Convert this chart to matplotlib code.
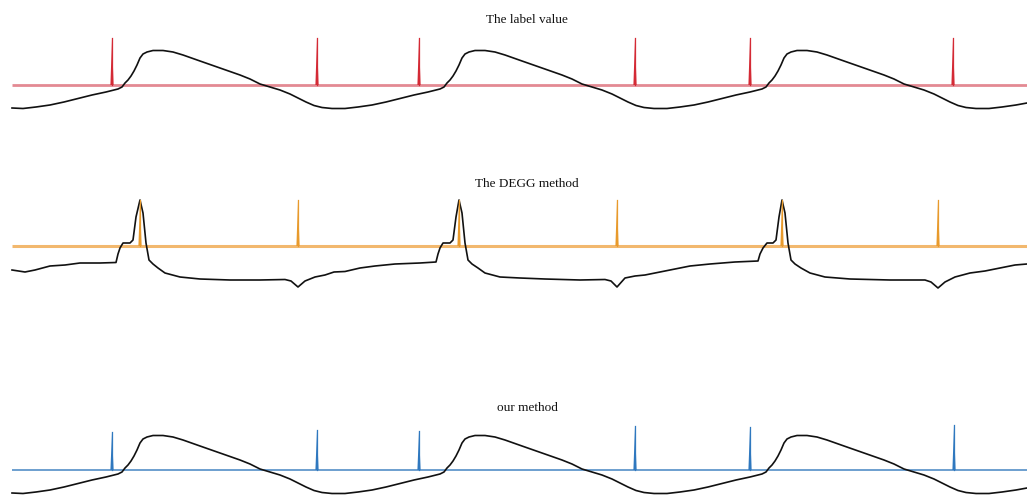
import matplotlib
matplotlib.use("Agg")
import matplotlib.pyplot as plt
import numpy as np

# ---------------- data (x in samples, amplitude relative to baseline) ----------------
titles = ["The label value", "The DEGG method", "our method"]

# EGG waveform (shared by panels 1 and 3)
egg_x = [12, 23, 36, 50, 64, 78, 92, 106,
         118, 122, 125, 128, 131, 134, 137, 140, 143, 147, 153, 163, 173, 183, 200, 220, 240, 250,
         260, 270, 280, 290, 298, 306, 314, 322, 332, 345, 358, 372, 386, 400, 414, 428,
         440, 444, 447, 450, 453, 456, 459, 462, 465, 469, 475, 485, 495, 505, 522, 542, 562, 572,
         582, 592, 602, 612, 620, 628, 636, 644, 654, 667, 680, 694, 708, 722, 736, 750,
         762, 766, 769, 772, 775, 778, 781, 784, 787, 791, 797, 807, 817, 827, 844, 864, 884, 894,
         904, 914, 924, 934, 942, 950, 958, 966, 976, 989, 1002, 1016, 1027]
egg_y = [-23, -23.5, -22, -20, -17, -13.5, -10, -7,
         -4, -2, 2, 5, 9, 14, 20, 27, 31, 33, 34.5, 34.5, 33, 30, 24, 17, 10, 6,
         1, -2, -5, -9, -13, -17, -20.5, -22.5, -23.5, -23.5, -22, -20, -17, -13.5, -10, -7,
         -4, -2, 2, 5, 9, 14, 20, 27, 31, 33, 34.5, 34.5, 33, 30, 24, 17, 10, 6,
         1, -2, -5, -9, -13, -17, -20.5, -22.5, -23.5, -23.5, -22, -20, -17, -13.5, -10, -7,
         -4, -2, 2, 5, 9, 14, 20, 27, 31, 33, 34.5, 34.5, 33, 30, 24, 17, 10, 6,
         1, -2, -5, -9, -13, -17, -20.5, -22.5, -23.5, -23.5, -22, -20, -18]

# DEGG waveform (panel 2)
degg_x = [12, 25, 35, 50, 65, 80, 100, 116, 118, 120, 123, 130, 133, 136, 140, 143, 146, 149, 153,
          158, 165, 180, 200, 230, 260, 285, 291, 298, 305, 315, 325, 334, 345, 360, 375, 395, 420,
          436, 438, 440, 443, 450, 453, 456, 459, 462, 465, 468, 472, 478, 485, 500, 520, 545, 580,
          605, 611, 617, 625, 635, 645, 660, 675, 690, 710, 735, 758, 760, 763, 767, 773, 776, 779,
          782, 785, 788, 791, 795, 801, 810, 825, 850, 890, 925, 931, 938, 945, 955, 970, 985, 1000,
          1015, 1027]
degg_y = [-24, -26, -24, -20, -19, -17, -17, -16.5, -8, -2, 3, 3, 6, 29, 46, 33, 3, -14, -18,
          -22, -27, -31, -33, -34, -34, -33.5, -35, -41, -35, -31, -29, -26, -25.5, -22, -20, -18, -17,
          -16, -8, -2, 3, 3, 6, 29, 46, 33, 3, -14, -18, -22, -27, -31, -32, -33, -34,
          -33.5, -35, -41, -32, -30, -29, -26, -23, -20, -18, -16, -15, -8, -2, 3, 3, 6, 29,
          46, 33, 3, -14, -18, -22, -27, -31, -33, -34, -34, -36, -42, -36, -31, -27, -25, -22,
          -19, -18]

# spike (marker) positions and heights
label_pos = [112, 317, 419, 635, 750, 953]
label_h = [47, 47, 47, 47, 47, 47]
degg_pos = [140, 298, 459, 617, 782, 938]
degg_h = [46, 46, 46, 46, 46, 46]
ours_pos = [112, 317, 419, 635, 750, 954]
ours_h = [38, 40, 39, 44, 43, 45]

# ---------------- layout ----------------
W, H = 1027, 496
fig = plt.figure(figsize=(W / 100, H / 100), dpi=100)

panels = [
    dict(top=0, bot=130, base=85, ty=20, sc="#d42a35", bc="#e38a93", blw=2.0,
         wx=egg_x, wy=egg_y, pos=label_pos, h=label_h),
    dict(top=160, bot=300, base=246, ty=184, sc="#e89a2c", bc="#f2b86e", blw=2.2,
         wx=degg_x, wy=degg_y, pos=degg_pos, h=degg_h),
    dict(top=390, bot=496, base=470, ty=408, sc="#2f78bf", bc="#6c9fcf", blw=1.4,
         wx=egg_x, wy=egg_y, pos=ours_pos, h=ours_h),
]

for i, p in enumerate(panels):
    ax = fig.add_axes([0, 1 - p["bot"] / H, 1, (p["bot"] - p["top"]) / H])
    ax.set_xlim(0, W)
    ax.set_ylim(-(p["bot"] - p["base"]), p["base"] - p["top"])
    ax.axis("off")
    ax.plot([12, W], [0, 0], color=p["bc"], lw=p["blw"], solid_capstyle="butt", zorder=1)
    ax.plot(p["wx"], p["wy"], color="#111111", lw=1.2, zorder=2, clip_on=False)
    for xp, hh in zip(p["pos"], p["h"]):
        ax.fill([xp - 1.6, xp, xp + 1.6], [0, hh, 0], color=p["sc"], lw=0, zorder=3)
        ax.plot([xp, xp], [0, hh], color=p["sc"], lw=0.9, zorder=3)
    fig.text(527 / W, 1 - p["ty"] / H, titles[i], ha="center", va="center",
             fontsize=9.5, family=["Liberation Serif", "DejaVu Serif"], color="#111111")

fig.savefig("out.png", dpi=100)
